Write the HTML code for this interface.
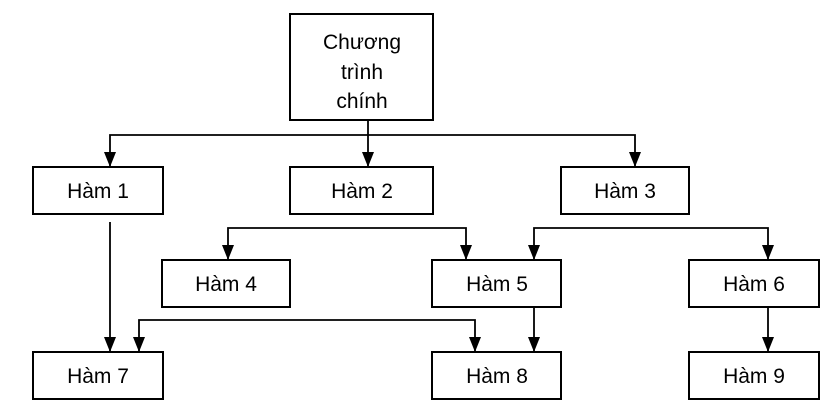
<!DOCTYPE html>
<html><head><meta charset="utf-8"><style>
html,body{margin:0;padding:0;background:#fff;width:837px;height:413px;overflow:hidden}
svg text{font-family:"Liberation Sans","DejaVu Sans",sans-serif;font-size:21px;fill:#000;text-anchor:middle}
</style></head><body>
<svg width="837" height="413" viewBox="0 0 837 413" xmlns="http://www.w3.org/2000/svg">
<defs>
<marker id="d" markerWidth="12" markerHeight="15" refX="6" refY="15" orient="0" markerUnits="userSpaceOnUse" viewBox="0 0 12 15">
<path d="M0,0 L12,0 L6,15 Z" fill="#000"/></marker></defs>
<g fill="none" stroke="#000" stroke-width="2">
<rect x="290" y="14" width="143" height="106"/>
<rect x="33" y="167" width="130" height="47"/>
<rect x="290" y="167" width="143" height="47"/>
<rect x="561" y="167" width="128" height="47"/>
<rect x="162" y="260" width="128" height="47"/>
<rect x="432" y="260" width="129" height="47"/>
<rect x="689" y="260" width="130" height="47"/>
<rect x="33" y="352" width="130" height="47"/>
<rect x="432" y="352" width="129" height="47"/>
<rect x="689" y="352" width="130" height="47"/>
</g>
<g fill="none" stroke="#000" stroke-width="1.8">
<polyline points="110,167 110,135 635,135 635,167" marker-start="url(#d)" marker-end="url(#d)"/>
<line x1="368" y1="120" x2="368" y2="167" marker-end="url(#d)"/>
<polyline points="228,260 228,228 466,228 466,260" marker-start="url(#d)" marker-end="url(#d)"/>
<polyline points="534,260 534,228 768,228 768,260" marker-start="url(#d)" marker-end="url(#d)"/>
<line x1="110" y1="222" x2="110" y2="352" marker-end="url(#d)"/>
<polyline points="139,352 139,320 475,320 475,352" marker-start="url(#d)" marker-end="url(#d)"/>
<line x1="534" y1="307" x2="534" y2="352" marker-end="url(#d)"/>
<line x1="768" y1="307" x2="768" y2="352" marker-end="url(#d)"/>
</g>
<text x="362" y="49">Chương</text>
<text x="362" y="79">trình</text>
<text x="362" y="108">chính</text>
<text x="98" y="198">Hàm 1</text>
<text x="362" y="198">Hàm 2</text>
<text x="625" y="198">Hàm 3</text>
<text x="226" y="291">Hàm 4</text>
<text x="497" y="291">Hàm 5</text>
<text x="754" y="291">Hàm 6</text>
<text x="98" y="383">Hàm 7</text>
<text x="497" y="383">Hàm 8</text>
<text x="754" y="383">Hàm 9</text>
</svg>
</body></html>
